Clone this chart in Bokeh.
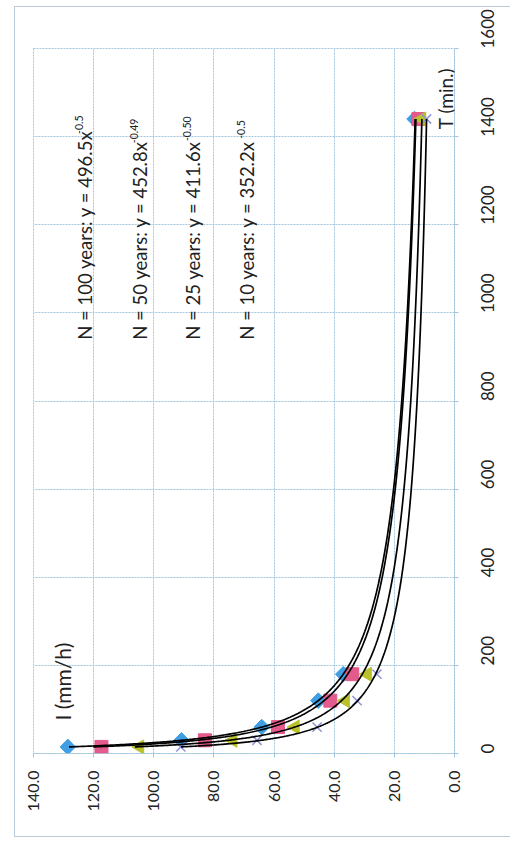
import numpy as np
from math import pi
from bokeh.plotting import figure
from bokeh.models import Range1d, Label, FixedTicker, NumeralTickFormatter, InlineStyleSheet
from bokeh.embed import file_html
from bokeh.resources import INLINE

# ---- data -------------------------------------------------------------
durations = [15, 30, 60, 120, 180, 1440]          # T (min.)
i_100 = [128.6, 90.8, 64.1, 45.3, 37.0, 13.3]     # I (mm/h), N = 100 years
i_50 = [117.4, 83.0, 58.7, 41.3, 34.0, 12.0]      # N = 50 years
i_25 = [104.7, 73.7, 53.0, 36.3, 29.0, 10.9]      # N = 25 years
i_10 = [91.0, 65.7, 45.7, 32.4, 25.8, 9.3]        # N = 10 years

series_names = ["N = 100 years", "N = 50 years", "N = 25 years", "N = 10 years"]
coefs = [496.5, 452.8, 411.6, 352.2]
expos = [-0.5, -0.49, -0.50, -0.5]
coef_labels = ["496.5", "452.8", "411.6", "352.2"]
expo_labels = ["-0.5", "-0.49", "-0.50", "-0.5"]

i_ticks = [0, 20, 40, 60, 80, 100, 120, 140]
t_ticks = [0, 200, 400, 600, 800, 1000, 1200, 1400, 1600]
i_title = "I (mm/h)"
t_title = "T (min.)"

# ---- styling ---------------------------------------------------------
FONT = "Lato"
TXT = "#222222"
GRID = "#a3c6de"
colors = ["#3f9fe2", "#e35a8c", "#b9c12b", "#8f93d4"]

p = figure(width=510, height=841, x_range=Range1d(140, 0), y_range=Range1d(0, 1600),
           output_backend="svg", toolbar_location=None,
           x_axis_location="below", y_axis_location="right",
           min_border_left=33, min_border_right=56, min_border_top=48, min_border_bottom=88)
p.background_fill_color = "white"
p.border_fill_color = "white"
p.outline_line_color = GRID
p.outline_line_dash = "2 1"

p.xaxis.ticker = FixedTicker(ticks=i_ticks)
p.yaxis.ticker = FixedTicker(ticks=t_ticks)
p.xgrid.ticker = FixedTicker(ticks=i_ticks)
p.ygrid.ticker = FixedTicker(ticks=t_ticks)
p.xaxis.formatter = NumeralTickFormatter(format="0.0")
p.grid.grid_line_color = GRID
p.grid.grid_line_dash = "2 1"
p.grid.grid_line_width = 1

for ax in (p.xaxis[0], p.yaxis[0]):
    ax.major_label_orientation = pi / 2
    ax.axis_line_color = GRID
    ax.axis_line_dash = "2 1"
    ax.major_tick_line_color = GRID
    ax.major_tick_out = 4
    ax.major_tick_in = 0
    ax.minor_tick_out = 0
    ax.minor_tick_in = 0
    ax.major_label_text_font = FONT
    ax.major_label_text_color = TXT
p.xaxis.major_label_text_font_size = "16px"
p.xaxis.major_label_standoff = 13
p.yaxis.major_label_text_font_size = "17px"
p.yaxis.major_label_standoff = 29

# ---- markers ----------------------------------------------------------
p.scatter(i_100, durations, marker="square", angle=pi / 4, size=11, color=colors[0])
p.scatter(i_50, durations, marker="square", size=13, color=colors[1])
p.scatter(i_25, durations, marker="triangle", angle=pi / 2, size=14, color=colors[2])
p.scatter(i_10, durations, marker="x", size=13, line_color=colors[3], line_width=1.5)

# ---- power trendlines --------------------------------------------------
t_fit = np.geomspace(durations[0], durations[-1], 400)
for c, e in zip(coefs, expos):
    p.line(c * t_fit ** e, t_fit, line_color="black", line_width=1.7)

# ---- equation labels ---------------------------------------------------
label_x = [123, 104.7, 87, 69]
label_start = 939
sup_start = [1406, 1385, 1390, 1395]
for k in range(4):
    p.add_layout(Label(x=label_x[k], y=label_start, angle=pi / 2,
                       text=f"{series_names[k]}: y = {coef_labels[k]}x",
                       text_align="left", text_baseline="middle",
                       text_font=FONT, text_font_size="18.5px", text_color=TXT))
    p.add_layout(Label(x=label_x[k], y=sup_start[k], angle=pi / 2, x_offset=-6,
                       text=expo_labels[k], text_align="left", text_baseline="middle",
                       text_font=FONT, text_font_size="10.5px", text_color=TXT))

# ---- axis titles inside the plot ---------------------------------------
p.add_layout(Label(x=130.3, y=75, angle=pi / 2, text=i_title, text_align="left",
                   text_baseline="middle", text_font=FONT, text_font_size="21px",
                   text_color=TXT))
p.add_layout(Label(x=3, y=1417, angle=pi / 2, text=t_title, text_align="left",
                   text_baseline="middle", text_font=FONT, text_font_size="19px",
                   text_color=TXT))

# ---- outer chart border (drawn with CSS on the figure element) ----------
p.stylesheets = [InlineStyleSheet(css="""
:host::after {
  content: "";
  position: absolute;
  left: 14px; top: 6px; width: 510px; height: 831px;
  box-sizing: border-box;
  border: 1.5px solid #b8c9d9;
  pointer-events: none;
  z-index: 10;
}
""")]

open("out.html", "w").write(file_html(p, INLINE))
